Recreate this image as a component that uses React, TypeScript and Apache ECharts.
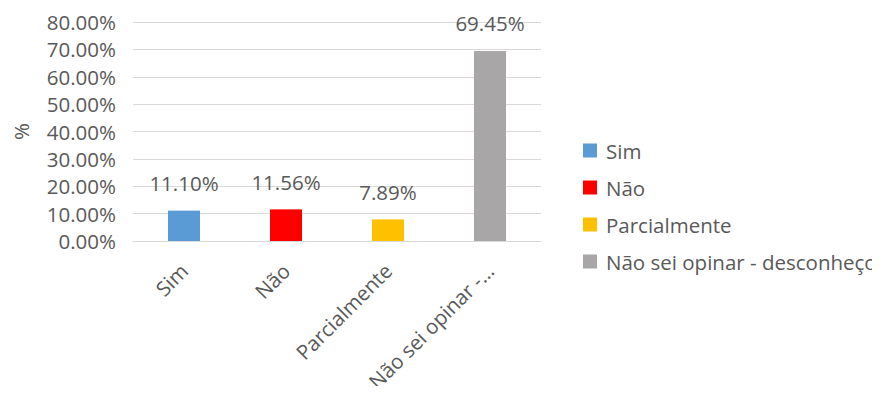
import React, { useEffect, useRef } from "react";
import * as echarts from "echarts";

const categories = ["Sim", "Não", "Parcialmente", "Não sei opinar -..."];
const seriesNames = ["Sim", "Não", "Parcialmente", "Não sei opinar - desconheço"];
const values = [11.1, 11.56, 7.89, 69.45];
const colors = ["#5B9BD5", "#FF0000", "#FFC000", "#A8A6A6"];
const yTicks = { min: 0, max: 80, interval: 10 };

const FONT = "'Open Sans', 'Noto Sans', sans-serif";
const TXT = "#595959";
const FS = 20.5;

export default function App() {
  const ref = useRef<HTMLDivElement>(null);
  useEffect(() => {
    if (!ref.current) return;
    const chart = echarts.init(ref.current, undefined, { renderer: "svg" });
    const series = seriesNames.map((name, i) => ({
      name,
      type: "bar",
      stack: "all",
      barWidth: 32,
      itemStyle: { color: colors[i] },
      data: values.map((v, j) => (j === i ? v : null)),
      label: {
        show: true,
        position: "top",
        distance: 17,
        color: TXT,
        fontFamily: FONT,
        fontSize: FS,
        formatter: (p: any) => p.value.toFixed(2) + "%",
      },
    }));
    chart.setOption({
      animation: false,
      textStyle: { fontFamily: FONT },
      grid: {
        left: 125,
        top: 14,
        right: 339,
        bottom: 145,
        containLabel: false,
        outerBoundsMode: "none",
      },
      legend: {
        orient: "vertical",
        left: 570,
        top: 127,
        itemWidth: 14,
        itemHeight: 14,
        itemGap: 16,
        icon: "rect",
        data: seriesNames,
        textStyle: { color: TXT, fontSize: FS, fontFamily: FONT, lineHeight: 21, padding: [0, 0, 0, 4] },
      },
      xAxis: {
        type: "category",
        data: categories,
        axisTick: { show: false },
        axisLine: { lineStyle: { color: "#D9D9D9", width: 1 } },
        axisLabel: {
          rotate: 45,
          interval: 0,
          color: TXT,
          fontSize: FS,
          fontFamily: FONT,
          margin: 26,
        },
      },
      yAxis: {
        type: "value",
        min: yTicks.min,
        max: yTicks.max,
        interval: yTicks.interval,
        name: "%",
        nameLocation: "middle",
        nameRotate: 90,
        nameGap: 102,
        nameTextStyle: { color: TXT, fontSize: FS, fontFamily: FONT },
        axisLine: { show: false },
        axisTick: { show: false },
        splitLine: { lineStyle: { color: "#D9D9D9", width: 1 } },
        axisLabel: {
          color: TXT,
          fontSize: FS,
          fontFamily: FONT,
          margin: 17,
          formatter: (v: number) => v.toFixed(2) + "%",
        },
      },
      series,
    });
    return () => chart.dispose();
  }, []);
  return <div ref={ref} style={{ width: 872, height: 378 }} />;
}
